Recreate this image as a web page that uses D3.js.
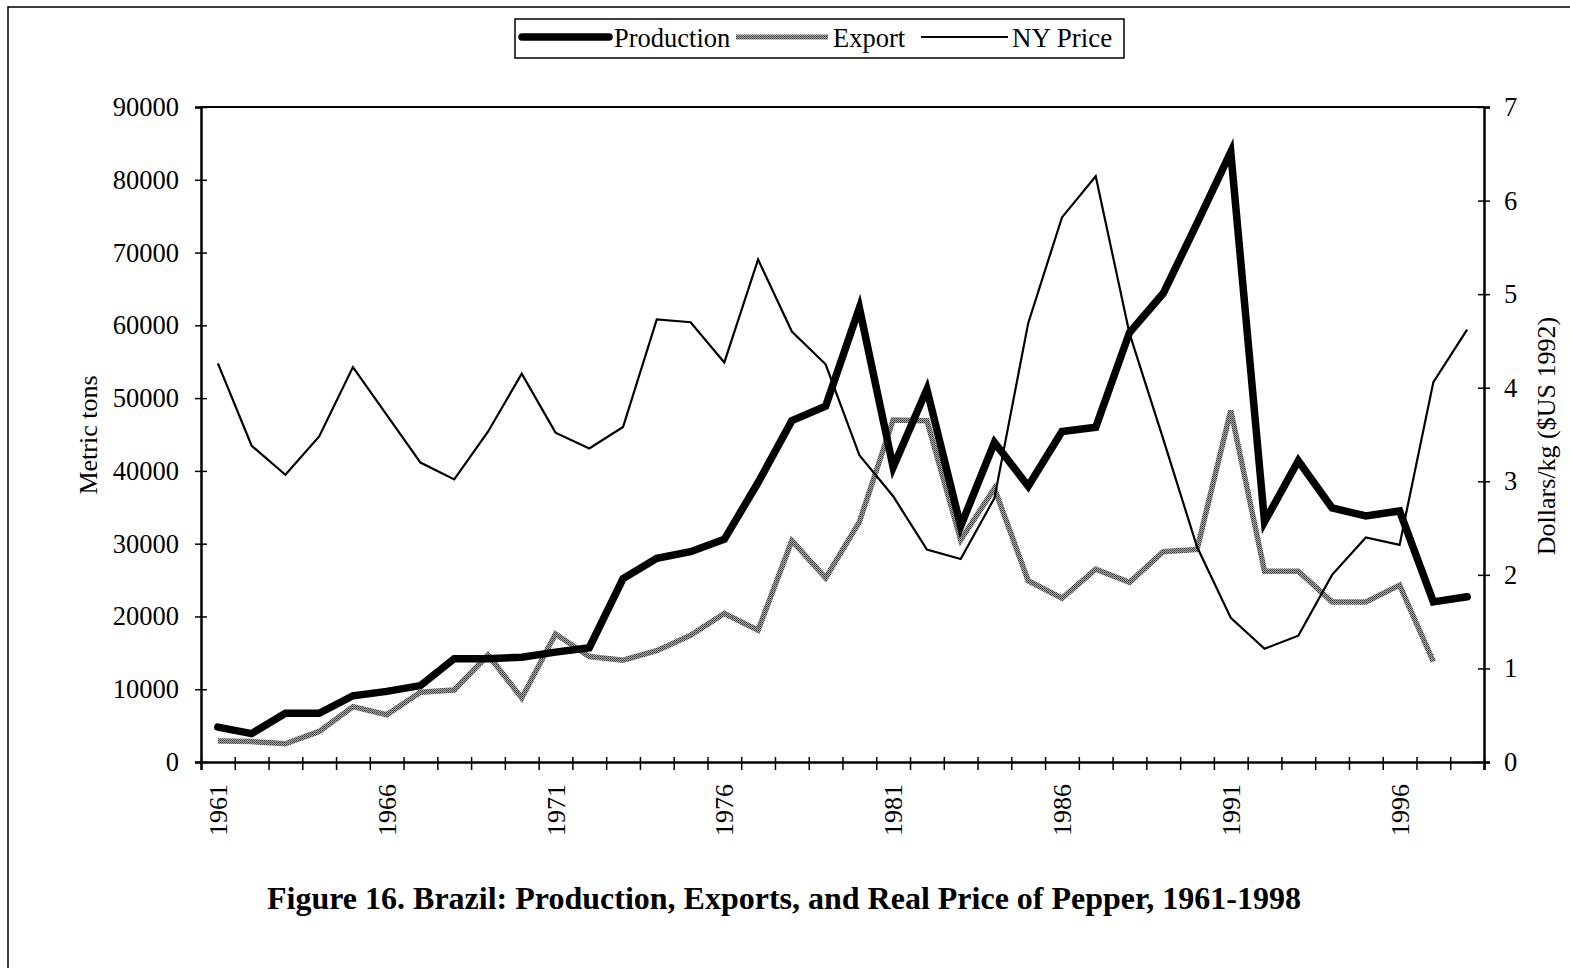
<!DOCTYPE html>
<html>
<head>
<meta charset="utf-8">
<script src="https://cdn.jsdelivr.net/npm/d3@7"></script>
<style>
  body { margin: 0; background: #fff; }
  svg { display: block; }
  text { font-family: "Liberation Serif", "Times New Roman", serif; fill: #000; }
</style>
</head>
<body>
<svg id="chart" width="1570" height="968"></svg>
<script>
const years = d3.range(1961, 1999)
const production = [4800, 3900, 6700, 6700, 9100, 9700, 10500, 14200, 14200, 14400,
  15100, 15700, 25200, 28000, 28900, 30600, 38400, 46900, 48900, 62400,
  40500, 51200, 32400, 43900, 37900, 45400, 46000, 59000, 64400, 74000,
  83800, 33000, 41400, 34900, 33800, 34500, 22000, 22700]
const exports = [2900, 2800, 2500, 4200, 7600, 6500, 9600, 9900, 14700, 8800,
  17600, 14500, 14000, 15300, 17400, 20400, 18100, 30400, 25300, 33000,
  47000, 46900, 30500, 37600, 24900, 22500, 26500, 24700, 28900, 29200,
  48300, 26200, 26200, 22000, 22000, 24300, 13800, null]
const nyPrice = [4.26, 3.38, 3.07, 3.48, 4.22, 3.71, 3.20, 3.02, 3.53, 4.15,
  3.52, 3.35, 3.58, 4.73, 4.70, 4.27, 5.37, 4.60, 4.25, 3.28,
  2.84, 2.27, 2.17, 2.82, 4.69, 5.82, 6.26, 4.58, 3.45, 2.30,
  1.54, 1.21, 1.35, 2.00, 2.40, 2.32, 4.06, 4.62]
const leftTicks = d3.range(0, 90001, 10000)
const rightTicks = d3.range(0, 8)
const labelYears = [1961, 1966, 1971, 1976, 1981, 1986, 1991, 1996]

const svg = d3.select('#chart')
const plotL = 201, plotR = 1484, plotT = 107, plotB = 762

// frame round the whole figure
svg.append('path')
  .attr('d', 'M8,968 L8,7 L1570,7')
  .attr('fill', 'none').attr('stroke', '#000').attr('stroke-width', 1.5)

// stipple pattern for the export line
const defs = svg.append('defs')
const pat = defs.append('pattern').attr('id', 'stip')
  .attr('patternUnits', 'userSpaceOnUse').attr('width', 2).attr('height', 2)
pat.append('rect').attr('width', 2).attr('height', 2).attr('fill', '#aaaaaa')
pat.append('rect').attr('width', 1).attr('height', 1).attr('fill', '#333')
pat.append('rect').attr('x', 1).attr('y', 1).attr('width', 1).attr('height', 1).attr('fill', '#555')

const x = d3.scaleLinear().domain([1960.5, 1998.5]).range([plotL, plotR])
const yL = d3.scaleLinear().domain([0, 90000]).range([plotB, plotT])
const yR = d3.scaleLinear().domain([0, 7]).range([plotB, plotT])

// top border of plot
svg.append('line').attr('x1', plotL).attr('x2', plotR).attr('y1', plotT).attr('y2', plotT)
  .attr('stroke', '#000').attr('stroke-width', 2)

// left axis
const gl = svg.append('g').attr('transform', `translate(${plotL},0)`)
  .call(d3.axisLeft(yL).tickValues(leftTicks).tickFormat(d3.format('d')).tickSize(6).tickPadding(16))
gl.selectAll('.tick line').attr('x2', 6).attr('x1', -6).attr('stroke-width', 1.5)
gl.select('.domain').attr('stroke-width', 2.5)
gl.selectAll('.tick text').style('font-size', '26.5px').attr('font-family', null)

// right axis
const gr = svg.append('g').attr('transform', `translate(${plotR},0)`)
  .call(d3.axisRight(yR).tickValues(rightTicks).tickFormat(d3.format('d')).tickSize(6).tickPadding(14))
gr.selectAll('.tick line').attr('x1', -6).attr('x2', 6).attr('stroke-width', 1.5)
gr.select('.domain').attr('stroke-width', 2.5)
gr.selectAll('.tick text').style('font-size', '26.5px').attr('font-family', null)

// bottom axis: tick marks between years
const gb = svg.append('g').attr('transform', `translate(0,${plotB})`)
  .call(d3.axisBottom(x).tickValues(years.map(d => d - 0.5).concat([1998.5])).tickSize(8).tickFormat(''))
gb.selectAll('.tick line').attr('y1', -5).attr('stroke-width', 1.5)
gb.select('.domain').attr('stroke-width', 2.5)

// year labels
svg.append('g').selectAll('text').data(labelYears).enter().append('text')
  .attr('transform', d => `translate(${x(d) + 9},${plotB + 22}) rotate(-90)`)
  .attr('text-anchor', 'end')
  .style('font-size', '26px')
  .text(d => d)

const line = (arr, sc) => d3.line()
  .defined(d => arr[years.indexOf(d)] !== null)
  .x(d => x(d)).y(d => sc(arr[years.indexOf(d)]))

svg.append('path').datum(years)
  .attr('d', line(exports, yL))
  .attr('fill', 'none').attr('stroke', 'url(#stip)').attr('stroke-width', 5.5)
  .attr('stroke-linejoin', 'miter')

svg.append('path').datum(years)
  .attr('d', line(nyPrice, yR))
  .attr('fill', 'none').attr('stroke', '#000').attr('stroke-width', 2.2)

svg.append('path').datum(years)
  .attr('d', line(production, yL))
  .attr('fill', 'none').attr('stroke', '#000').attr('stroke-width', 7.5)
  .attr('stroke-linecap', 'round')

// axis titles
svg.append('text').attr('transform', 'translate(97,435) rotate(-90)')
  .attr('text-anchor', 'middle').style('font-size', '26px').text('Metric tons')
svg.append('text').attr('transform', 'translate(1555,436) rotate(-90)')
  .attr('text-anchor', 'middle').style('font-size', '26px').text('Dollars/kg ($US 1992)')

// legend
const lg = svg.append('g')
lg.append('rect').attr('x', 515).attr('y', 19).attr('width', 609).attr('height', 39)
  .attr('fill', '#fff').attr('stroke', '#000').attr('stroke-width', 1.5)
lg.append('line').attr('x1', 522).attr('x2', 609).attr('y1', 37).attr('y2', 37)
  .attr('stroke', '#000').attr('stroke-width', 7.5).attr('stroke-linecap', 'round')
lg.append('text').attr('x', 614).attr('y', 47).style('font-size', '26.5px').text('Production')
lg.append('line').attr('x1', 736).attr('x2', 828).attr('y1', 37).attr('y2', 37)
  .attr('stroke', 'url(#stip)').attr('stroke-width', 5)
lg.append('text').attr('x', 833).attr('y', 47).style('font-size', '26.5px').text('Export')
lg.append('line').attr('x1', 921).attr('x2', 1008).attr('y1', 37).attr('y2', 37)
  .attr('stroke', '#000').attr('stroke-width', 2)
lg.append('text').attr('x', 1012).attr('y', 47).style('font-size', '27px').text('NY Price')

// caption
svg.append('text').attr('x', 784).attr('y', 909).attr('text-anchor', 'middle')
  .style('font-size', '32px').style('font-weight', 'bold')
  .text('Figure 16. Brazil: Production, Exports, and Real Price of Pepper, 1961-1998')
</script>
</body>
</html>
